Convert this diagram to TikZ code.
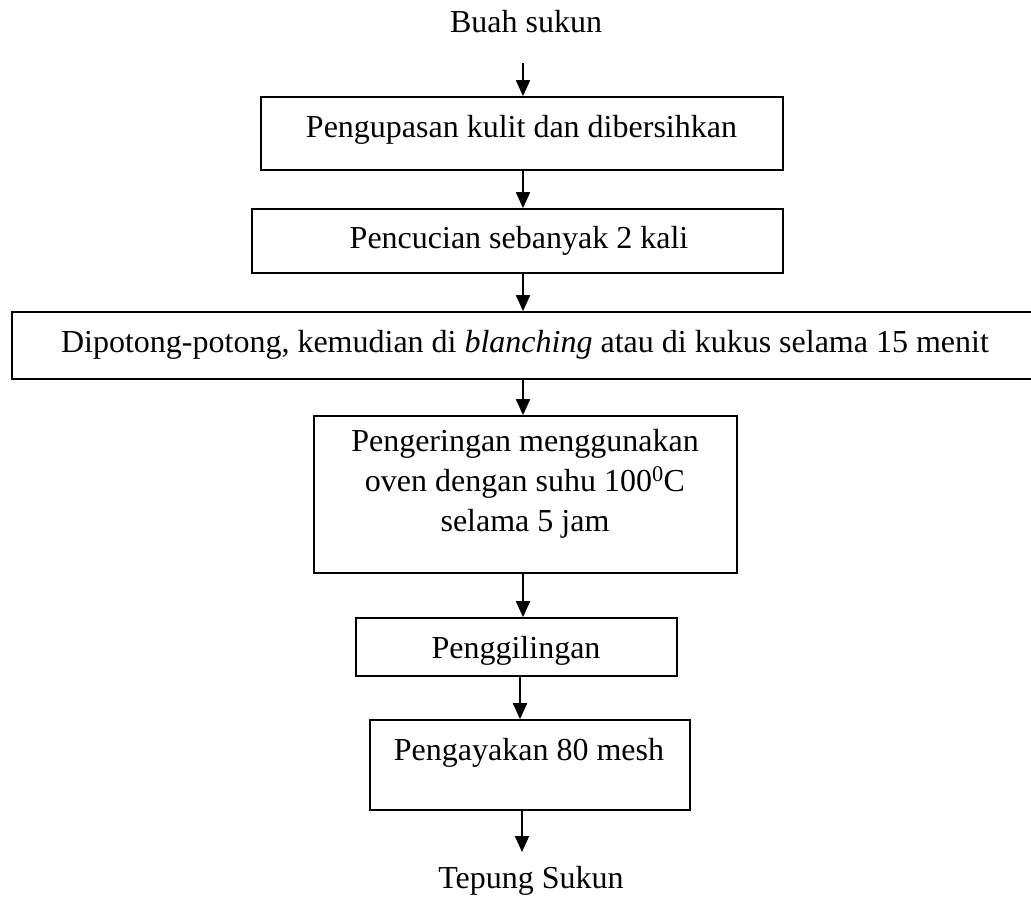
\documentclass[tikz,border=0pt]{standalone}
\usepackage{fontspec}
\setmainfont{Liberation Serif}
\usetikzlibrary{arrows.meta}
\begin{document}
\begin{tikzpicture}[x=1pt,y=-1pt,
  box/.style={draw,line width=1.7pt,rectangle,inner sep=0pt},
  txt/.style={inner sep=0pt,anchor=base,font=\fontsize{32}{38}\selectfont},
  arr/.style={line width=1.9pt,-{Triangle[length=16pt,width=14pt]}}]
\useasboundingbox (0,0) rectangle (1031,902);
\clip (0,0) rectangle (1031,902);
\fill[white] (0,0) rectangle (1031,902);
% texts and boxes
\node[txt] (t0) at (526,32) {Buah sukun};
\node[box,minimum width=522pt,minimum height=73pt] (b1) at (522,133.5) {};
\node[txt] (t1) at (521.5,137) {Pengupasan kulit dan dibersihkan};
\node[box,minimum width=531pt,minimum height=64pt] (b2) at (517.5,241) {};
\node[txt] (t2) at (519,248) {Pencucian sebanyak 2 kali};
\node[box,minimum width=1033pt,minimum height=67pt] (b3) at (528.5,345.5) {};
\node[txt] (t3) at (525,352) {Dipotong-potong, kemudian di \textit{blanching} atau di kukus selama 15 menit};
\node[box,minimum width=423pt,minimum height=157pt] (b4) at (525.5,494.5) {};
\node[txt] (t4a) at (525,451) {Pengeringan menggunakan};
\node[txt] (t4b) at (525,491) {oven dengan suhu 100\textsuperscript{0}C};
\node[txt] (t4c) at (525,531) {selama 5 jam};
\node[box,minimum width=321pt,minimum height=58pt] (b5) at (516.5,647) {};
\node[txt] (t5) at (516,658) {Penggilingan};
\node[box,minimum width=320pt,minimum height=90pt] (b6) at (530,765) {};
\node[txt] (t6) at (529,760) {Pengayakan 80 mesh};
\node[txt] (t7) at (531,888) {Tepung Sukun};
% connectors
\coordinate (s0) at (523,63);
\coordinate (x6) at (520,0);
\coordinate (e7) at (522,852);
\draw[arr] (s0) -- (b1.north -| s0);
\draw[arr] (b1.south -| s0) -- (b2.north -| s0);
\draw[arr] (b2.south -| s0) -- (b3.north -| s0);
\draw[arr] (b3.south -| s0) -- (b4.north -| s0);
\draw[arr] (b4.south -| s0) -- (b5.north -| s0);
\draw[arr] (b5.south -| x6) -- (b6.north -| x6);
\draw[arr] (b6.south -| e7) -- (e7);
\end{tikzpicture}
\end{document}
